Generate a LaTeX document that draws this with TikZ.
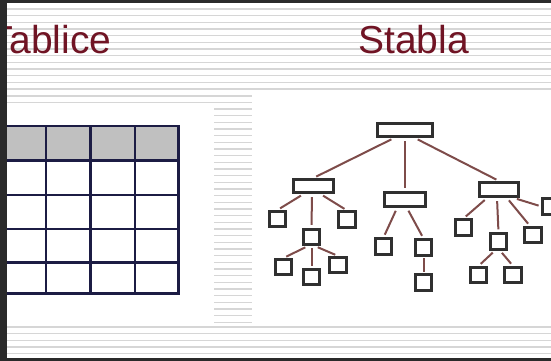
\documentclass[tikz,border=0pt]{standalone}
\usepackage{fontspec}
\setmainfont{Liberation Sans}
\usetikzlibrary{calc}
\definecolor{framecol}{HTML}{2A2A2A}
\definecolor{stripecol}{HTML}{D6D6D6}
\definecolor{titlered}{HTML}{701424}
\definecolor{gridblue}{HTML}{1C1C44}
\definecolor{headgray}{HTML}{C0C0C0}
\definecolor{edgebrown}{HTML}{7E4C4A}
\definecolor{boxgray}{HTML}{303030}
\begin{document}
\begin{tikzpicture}[x=1pt,y=-1pt,
  stripe/.style={draw=stripecol,line width=1.4pt},
  titletext/.style={text=titlered,font=\fontsize{39}{39}\selectfont,inner sep=0pt},
  gridline/.style={draw=gridblue,line width=2.5pt,line cap=rect},
  bigbox/.style={draw=boxgray,line width=2.6pt,fill=white,inner sep=0pt},
  smallbox/.style={draw=boxgray,line width=2.6pt,fill=white,inner sep=0pt,minimum width=16.5pt,minimum height=15.5pt},
  treeedge/.style={draw=edgebrown,line width=2pt,shorten <=3pt,shorten >=3pt}]
\useasboundingbox (0,0) rectangle (551,361);
\fill[white] (0,0) rectangle (551,361);
% background stripes
\foreach \i in {0,...,12} \draw[stripe] (7,{9+6.67*\i}) -- (551,{9+6.67*\i});
\draw[stripe] (7,96) -- (252,96);
\draw[stripe] (7,102.7) -- (252,102.7);
\foreach \i in {0,...,32} \draw[stripe] (214,{109+6.67*\i}) -- (252,{109+6.67*\i});
\foreach \i in {0,...,4} \draw[stripe] (7,{327+6.67*\i}) -- (551,{327+6.67*\i});
% titles
\node[titletext,anchor=base east] (tab) at (111.5,53) {Tablice};
\node[titletext,anchor=base west] (stab) at (358,53) {Stabla};
% table
\fill[headgray] (7,126) rectangle (178.5,160.7);
\foreach \y in {126,160.7,195,229,262.7,293.3} \draw[gridline] (0,\y) -- (178.5,\y);
\foreach \x in {46,90.7,135,178.5} \draw[gridline] (\x,126) -- (\x,293.3);
% tree nodes
\node[bigbox,minimum width=55.5pt,minimum height=13.5pt] (root) at (405,130) {};
\node[bigbox,minimum width=40.5pt,minimum height=13.5pt] (L) at (313.5,186) {};
\node[bigbox,minimum width=41.5pt,minimum height=14.5pt] (M) at (405,199.5) {};
\node[bigbox,minimum width=39.5pt,minimum height=14.5pt] (R) at (499,189.5) {};
\node[smallbox] (LL) at (277.5,219) {};
\node[smallbox] (LR) at (347,219.5) {};
\node[smallbox] (LM) at (311.5,237) {};
\node[smallbox] (LMa) at (283.5,267) {};
\node[smallbox] (LMb) at (311.5,277) {};
\node[smallbox] (LMc) at (338,265) {};
\node[smallbox] (Ma) at (383.5,246.5) {};
\node[smallbox] (Mb) at (423.5,247.5) {};
\node[smallbox] (Mc) at (423.5,282.5) {};
\node[smallbox] (Ra) at (463.5,227.5) {};
\node[smallbox] (Rb) at (498.5,241.5) {};
\node[smallbox] (Rc) at (533,235) {};
\node[smallbox] (Rd) at (551,206.5) {};
\node[smallbox] (Rba) at (478.5,275) {};
\node[smallbox] (Rbb) at (513,275) {};
% tree edges
\draw[treeedge] ([xshift=-11pt]root.south) -- (L.north);
\draw[treeedge] (root.south) -- (M.north);
\draw[treeedge] ([xshift=10pt]root.south) -- (R.north);
\draw[treeedge] ([xshift=-10pt]L.south) -- (LL.north);
\draw[treeedge] ([xshift=-1.5pt]L.south) -- (LM.north);
\draw[treeedge] ([xshift=7pt]L.south) -- (LR.north);
\draw[treeedge] ([xshift=-3.5pt]LM.south) -- (LMa.north);
\draw[treeedge,shorten <=2pt,shorten >=2pt] (LM.south) -- (LMb.north);
\draw[treeedge] ([xshift=3.5pt]LM.south) -- (LMc.north);
\draw[treeedge] ([xshift=-8pt]M.south) -- (Ma.north);
\draw[treeedge] ([xshift=2pt]M.south) -- (Mb.north);
\draw[treeedge,shorten <=1.5pt,shorten >=1.5pt] (Mb.south) -- (Mc.north);
\draw[treeedge] ([xshift=-12pt]R.south) -- (Ra.north);
\draw[treeedge] ([xshift=-2pt]R.south) -- (Rb.north);
\draw[treeedge] ([xshift=8pt]R.south) -- ([xshift=-3pt]Rc.north);
\draw[treeedge] ([xshift=-6pt]R.south east) -- (Rd.west);
\draw[treeedge] ([xshift=-3.5pt]Rb.south) -- (Rba.north);
\draw[treeedge] ([xshift=1.5pt]Rb.south) -- (Rbb.north);
% dark frame
\fill[framecol] (0,0) rectangle (551,3);
\fill[framecol] (0,0) rectangle (7,361);
\fill[framecol] (0,358) rectangle (551,361);
\end{tikzpicture}
\end{document}
